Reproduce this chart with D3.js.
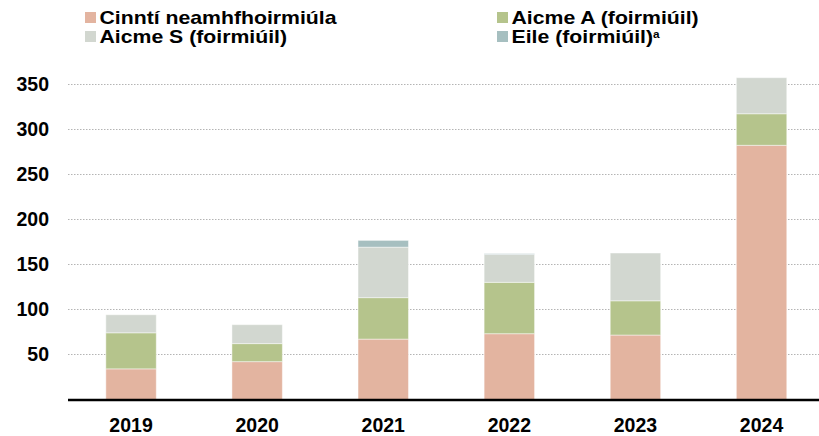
<!DOCTYPE html>
<html>
<head>
<meta charset="utf-8">
<script src="https://cdn.jsdelivr.net/npm/d3@7"></script>
<style>
  body { margin: 0; background: #fff; }
  text { font-family: "Liberation Sans", Arial, sans-serif; font-weight: bold; fill: #000; }
</style>
</head>
<body>
<svg id="chart" width="819" height="436"></svg>
<script>
(function() {

const years = ["2019", "2020", "2021", "2022", "2023", "2024"];
const cinnti = [34, 42, 67, 73, 71.5, 282];
const aicmeA = [40, 20, 46, 57, 38, 35];
const aicmeS = [20, 21, 56, 31, 53, 40];
const eile = [0, 0, 7.5, 0.8, 0, 0];
const yTicks = [50, 100, 150, 200, 250, 300, 350];

const keys = ["cinnti", "aicmeA", "aicmeS", "eile"];
const legendLabels = ["Cinntí neamhfhoirmiúla", "Aicme A (foirmiúil)", "Aicme S (foirmiúil)", "Eile (foirmiúil)"];
const colors = ["#e3b4a0", "#b5c48c", "#d2d7d0", "#a6bfc0"];

const rows = years.map((y, i) => ({
  year: y, cinnti: cinnti[i], aicmeA: aicmeA[i], aicmeS: aicmeS[i], eile: eile[i]
}));

const svg = d3.select("#chart");

const x = d3.scaleBand()
  .domain(years)
  .range([68, 824.6])
  .paddingInner(0.6)
  .paddingOuter(0.3);

const y = d3.scaleLinear()
  .domain([0, 350])
  .range([399.5, 84]);

// gridlines
svg.append("g")
  .selectAll("line")
  .data(yTicks)
  .enter().append("line")
    .attr("x1", 68)
    .attr("x2", 819)
    .attr("y1", d => Math.round(y(d)) + 0.5)
    .attr("y2", d => Math.round(y(d)) + 0.5)
    .attr("stroke", "#b4b4b4")
    .attr("stroke-width", 1)
    .attr("stroke-dasharray", "1.5,1.5");

// y tick labels
svg.append("g")
  .selectAll("text")
  .data(yTicks)
  .enter().append("text")
    .attr("x", 49)
    .attr("y", d => y(d))
    .attr("dy", "0.36em")
    .attr("text-anchor", "end")
    .style("font-size", "19.5px")
    .text(d => d);

// stacked bars
const series = d3.stack().keys(keys)(rows);

svg.append("g")
  .selectAll("g")
  .data(series)
  .enter().append("g")
    .attr("fill", (d, i) => colors[i])
  .selectAll("rect")
  .data(d => d)
  .enter().append("rect")
    .attr("x", d => x(d.data.year))
    .attr("width", x.bandwidth())
    .attr("y", d => y(d[1]))
    .attr("height", d => y(d[0]) - y(d[1]))
    .attr("stroke", "rgba(255,255,255,0.45)")
    .attr("stroke-width", 1);

// baseline
svg.append("line")
  .attr("x1", 68)
  .attr("x2", 819)
  .attr("y1", y(0) + 0.5)
  .attr("y2", y(0) + 0.5)
  .attr("stroke", "#000")
  .attr("stroke-width", 2.5);

// year labels
svg.append("g")
  .selectAll("text")
  .data(years)
  .enter().append("text")
    .attr("x", d => x(d) + x.bandwidth() / 2)
    .attr("y", 432)
    .attr("text-anchor", "middle")
    .style("font-size", "19.5px")
    .text(d => d);

// legend: order in picture is two columns, two rows
const legendPos = [
  { x: 85, y: 12 },   // Cinntí
  { x: 497, y: 12 },  // Aicme A
  { x: 85, y: 31 },   // Aicme S
  { x: 497, y: 31 }   // Eile
];

const legend = svg.append("g");

const item = legend.selectAll("g")
  .data(legendLabels)
  .enter().append("g")
    .attr("transform", (d, i) => `translate(${legendPos[i].x},${legendPos[i].y})`);

item.append("rect")
  .attr("width", 11)
  .attr("height", 11)
  .attr("fill", (d, i) => colors[i]);

item.append("text")
  .attr("transform", "translate(14.5,11.5) scale(1.18,1)")
  .style("font-size", "18px")
  .text(d => d)
  .filter((d, i) => i === 3)
  .append("tspan")
    .attr("dy", "-0.45em")
    .style("font-size", "10px")
    .text("a");

})();
</script>
</body>
</html>
